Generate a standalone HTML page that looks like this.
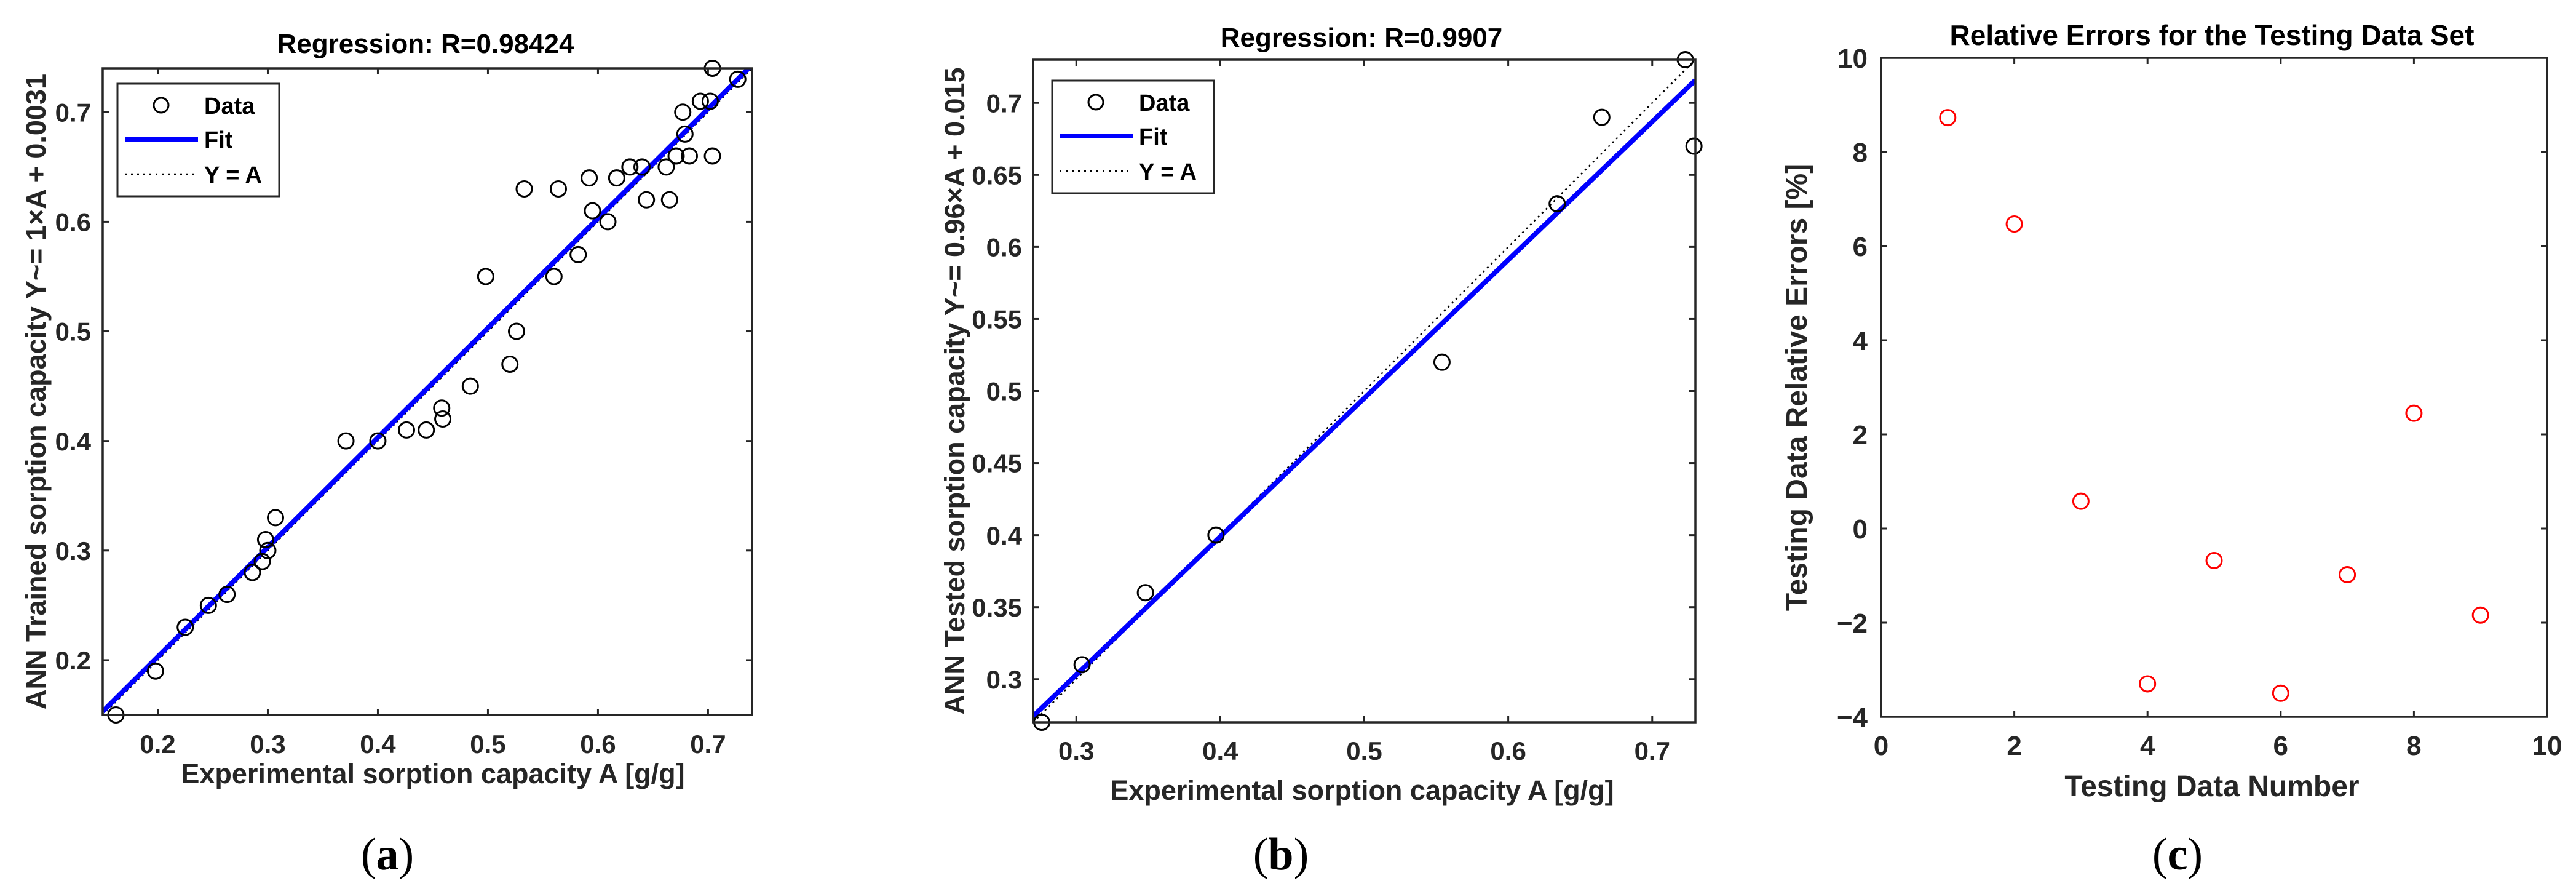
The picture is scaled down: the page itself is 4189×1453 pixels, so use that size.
<!DOCTYPE html>
<html><head><meta charset="utf-8"><style>
html,body{margin:0;padding:0;background:#fff}
svg{display:block}
</style></head><body>
<svg id="fig" width="4189" height="1453" viewBox="0 0 4189 1453" xmlns="http://www.w3.org/2000/svg" font-family="Liberation Sans, Arial, sans-serif"></svg>
<script>
// Panel (a) data
const aX = [0.162,0.198,0.225,0.246,0.263,0.286,0.295,0.298,0.300,0.307,0.371,0.400,0.426,0.444,0.458,0.459,0.484,0.498,0.520,0.526,0.533,0.560,0.564,0.582,0.592,0.595,0.609,0.617,0.629,0.640,0.644,0.662,0.665,0.671,0.677,0.679,0.683,0.693,0.702,0.704,0.704,0.727];
const aY = [0.15,0.19,0.23,0.25,0.26,0.28,0.29,0.31,0.30,0.33,0.40,0.40,0.41,0.41,0.43,0.42,0.45,0.55,0.47,0.50,0.63,0.55,0.63,0.57,0.64,0.61,0.60,0.64,0.65,0.65,0.62,0.65,0.62,0.66,0.70,0.68,0.66,0.71,0.71,0.74,0.66,0.73];
const aFit = [1, 0.0031];
const aTicks = [0.2,0.3,0.4,0.5,0.6,0.7];
const aTickLabels = ["0.2","0.3","0.4","0.5","0.6","0.7"];
// Panel (b) data
const bX = [0.276,0.304,0.348,0.397,0.554,0.634,0.665,0.723,0.729];
const bY = [0.27,0.31,0.36,0.40,0.52,0.63,0.69,0.73,0.67];
const bFit = [0.96, 0.015];
const bXTicks = [0.3,0.4,0.5,0.6,0.7];
const bXTickLabels = ["0.3","0.4","0.5","0.6","0.7"];
const bYTicks = [0.3,0.35,0.4,0.45,0.5,0.55,0.6,0.65,0.7];
const bYTickLabels = ["0.3","0.35","0.4","0.45","0.5","0.55","0.6","0.65","0.7"];
// Panel (c) data
const cX = [1,2,3,4,5,6,7,8,9];
const cY = [8.73,6.47,0.58,-3.3,-0.68,-3.5,-0.98,2.45,-1.84];
const cXTicks = [0,2,4,6,8,10];
const cXTickLabels = ["0","2","4","6","8","10"];
const cYTicks = [-4,-2,0,2,4,6,8,10];
const cYTickLabels = ["\u22124","\u22122","0","2","4","6","8","10"];

const NS="http://www.w3.org/2000/svg";
const fig=document.getElementById('fig');
function mk(tag,attrs,parent){const e=document.createElementNS(NS,tag);for(const k in attrs)e.setAttribute(k,attrs[k]);(parent||fig).appendChild(e);return e;}
function scale(d0,d1,r0,r1){return v=>r0+(v-d0)/(d1-d0)*(r1-r0);}

function panel(o){
  const g=mk('g',{});
  
  
  const sx=scale(o.xd[0],o.xd[1],o.L,o.R), sy=scale(o.yd[0],o.yd[1],o.B,o.T);
  o.xt.forEach((v,i)=>{
    const x=sx(v);
    mk('line',{x1:x,x2:x,y1:o.B,y2:o.B-10,stroke:'#262626','stroke-width':3},g);
    mk('line',{x1:x,x2:x,y1:o.T,y2:o.T+10,stroke:'#262626','stroke-width':3},g);
    const t=mk('text',{x:x,y:o.xtY,'text-anchor':'middle','font-size':o.fs,'font-weight':'bold',fill:'#262626'},g);
    t.textContent=o.xtl[i];
    
    
  });
  o.yt.forEach((v,i)=>{
    const y=sy(v);
    mk('line',{x1:o.L,x2:o.L+10,y1:y,y2:y,stroke:'#262626','stroke-width':3},g);
    mk('line',{x1:o.R,x2:o.R-10,y1:y,y2:y,stroke:'#262626','stroke-width':3},g);
    const t=mk('text',{x:o.ytX,y:y+o.fs*0.36,'text-anchor':'end','font-size':o.fs,'font-weight':'bold',fill:'#262626'},g);
    t.textContent=o.ytl[i];
    
    
  });
  const cid='clip'+o.name;
  const cp=mk('clipPath',{id:cid},g);
  mk('rect',{x:o.L,y:o.T,width:o.R-o.L,height:o.B-o.T},cp);
  if(o.fit){
    const dl=mk('line',{x1:sx(o.xd[0]),y1:sy(o.xd[0]),x2:sx(o.xd[1]),y2:sy(o.xd[1]),stroke:'#000','stroke-width':2.5,'stroke-dasharray':'3 6','clip-path':'url(#'+cid+')'},g);
    
    
    const x0=o.xd[0],x1=o.xd[1];
    const fl=mk('line',{x1:sx(x0),y1:sy(o.fit[0]*x0+o.fit[1]),x2:sx(x1),y2:sy(o.fit[0]*x1+o.fit[1]),stroke:'#0000ff','stroke-width':8,'clip-path':'url(#'+cid+')'},g);
    
    
  }
  o.px.forEach((v,i)=>{
    const c=mk('circle',{cx:sx(v),cy:sy(o.py[i]),r:12.5,fill:'none',stroke:o.mc,'stroke-width':3},g);
    
    
  });
  const box=mk('rect',{x:o.L,y:o.T,width:o.R-o.L,height:o.B-o.T,fill:'none',stroke:'#262626','stroke-width':3.5},g);
  
  
  const ti=mk('text',{x:o.titleX,y:o.titleY,'text-anchor':'middle','font-size':o.tfs,'font-weight':'bold',fill:'#000'},g);
  ti.textContent=o.title;
  
  
  const xl=mk('text',{x:o.xlX,y:o.xlY,'text-anchor':'middle','font-size':o.lfs,'font-weight':'bold',fill:'#262626'},g);
  xl.textContent=o.xlabel;
  
  
  const yc=(o.T+o.B)/2;
  const yl=mk('text',{x:o.ylX,y:yc,'text-anchor':'middle','font-size':o.lfs,'font-weight':'bold',fill:'#262626',transform:'rotate(-90 '+o.ylX+' '+yc+')'},g);
  yl.textContent=o.ylabel;
  
  
  if(o.leg){
    const lx=o.leg[0],ly=o.leg[1];
    const lg=mk('g',{},g);
    
    
    mk('rect',{x:lx,y:ly,width:263,height:183,fill:'#fff',stroke:'#262626','stroke-width':3},lg);
    mk('circle',{cx:lx+71,cy:ly+35,r:12,fill:'none',stroke:'#000','stroke-width':3},lg);
    mk('line',{x1:lx+12,x2:lx+131,y1:ly+90,y2:ly+90,stroke:'#0000ff','stroke-width':8},lg);
    mk('line',{x1:lx+12,x2:lx+124,y1:ly+147,y2:ly+147,stroke:'#000','stroke-width':2.5,'stroke-dasharray':'3 7'},lg);
    const labels=['Data','Fit','Y = A'];
    [ly+49,ly+104,ly+161].forEach((yy,i)=>{
      const t=mk('text',{x:lx+141,y:yy,'font-size':38,'font-weight':'bold',fill:'#000'},lg);
      t.textContent=labels[i];
      
      
    });
  }
  const pl=mk('text',{x:o.plX,y:1413,'text-anchor':'middle','font-size':74,fill:'#000','font-family':'Liberation Serif, serif'},g);
  pl.innerHTML='(<tspan font-weight="bold">'+o.pl+'</tspan>)';
  
  
}

panel({name:'panel-a',L:167,R:1223,T:111,B:1162,xd:[0.15,0.74],yd:[0.15,0.74],
  xt:aTicks,xtl:aTickLabels,yt:aTicks,ytl:aTickLabels,xtY:1224,ytX:148,fs:42,
  px:aX,py:aY,mc:'#000',fit:aFit,title:'Regression: R=0.98424',titleX:692,titleY:86,tfs:44,
  xlabel:'Experimental sorption capacity A [g/g]',xlX:704,xlY:1273,lfs:45,
  ylabel:'ANN Trained sorption capacity Y~= 1\u00d7A + 0.0031',ylX:74,leg:[191,136],plX:630,pl:'a'});
panel({name:'panel-b',L:1680,R:2757,T:97,B:1174,xd:[0.27,0.73],yd:[0.27,0.73],
  xt:bXTicks,xtl:bXTickLabels,yt:bYTicks,ytl:bYTickLabels,xtY:1235,ytX:1662,fs:42,
  px:bX,py:bY,mc:'#000',fit:bFit,title:'Regression: R=0.9907',titleX:2214,titleY:76,tfs:44,
  xlabel:'Experimental sorption capacity A [g/g]',xlX:2215,xlY:1300,lfs:45,
  ylabel:'ANN Tested sorption capacity Y~= 0.96\u00d7A + 0.015',ylX:1568,leg:[1711,131],plX:2083,pl:'b'});
panel({name:'panel-c',L:3059,R:4142,T:94,B:1165,xd:[0,10],yd:[-4,10],
  xt:cXTicks,xtl:cXTickLabels,yt:cYTicks,ytl:cYTickLabels,xtY:1227,ytX:3037,fs:44,
  px:cX,py:cY,mc:'#ff0000',fit:null,title:'Relative Errors for the Testing Data Set',titleX:3597,titleY:73,tfs:46,
  xlabel:'Testing Data Number',xlX:3597,xlY:1294,lfs:48,
  ylabel:'Testing Data Relative Errors [%]',ylX:2938,leg:null,plX:3541,pl:'c'});
</script>
</body></html>
